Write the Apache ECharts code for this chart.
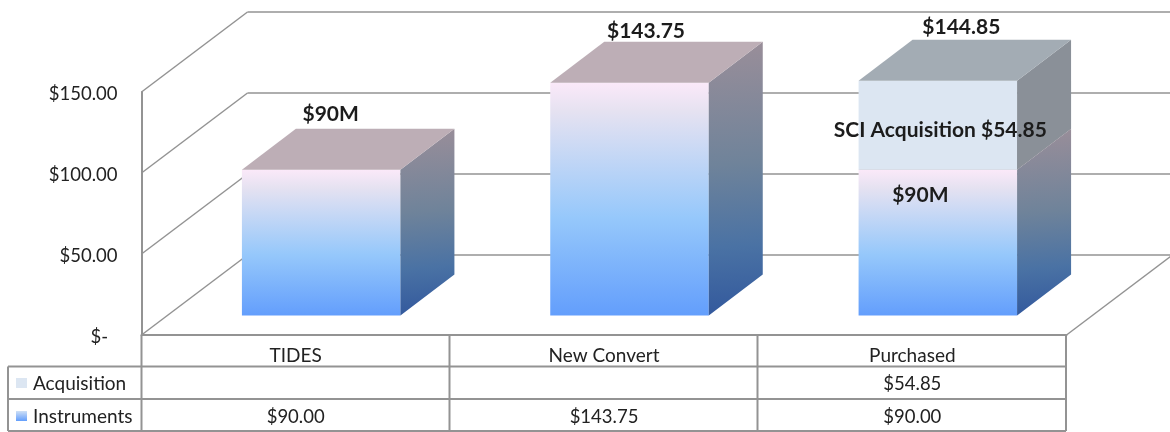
<!DOCTYPE html>
<html>
<head>
<meta charset="utf-8">
<style>
  html, body { margin: 0; padding: 0; background: #fff; }
  #chart { width: 1170px; height: 432px; }
</style>
</head>
<body>
<div id="chart"></div>
<script src="https://cdn.jsdelivr.net/npm/echarts@6/dist/echarts.min.js"></script>
<script>
const categories = ["TIDES", "New Convert", "Purchased"];
const instruments = [90, 143.75, 90];
const acquisition = [null, null, 54.85];
const yTicks = [0, 50, 100, 150];
const yTickLabels = ["$-  ", "$50.00", "$100.00", "$150.00"];
const totalLabels = ["$90M", "$143.75", "$144.85"];
const instrumentLabels = ["", "", "$90M"];
const acquisitionLabels = ["", "", "SCI Acquisition $54.85"];

const FONT = "Lato, 'Open Sans', sans-serif";
const LINE = "#939393";
const TEXT = "#222";

// fake 3d projection, in pixels
const WALL_DEPTH = [106, -80];
const BAR_SHIFT = [25.5, -19.5];
const BAR_DEPTH = [54, -41];
const BAR_WIDTH = 158.5;

const faceGradient = {
  type: "linear", x: 0, y: 0, x2: 0, y2: 1,
  colorStops: [
    { offset: 0, color: "#fbe9f9" },
    { offset: 0.12, color: "#e6e2f1" },
    { offset: 0.58, color: "#96c8fb" },
    { offset: 1, color: "#639efc" },
  ],
};
const sideGradient = {
  type: "linear", x: 0, y: 0, x2: 0.25, y2: 1,
  colorStops: [
    { offset: 0, color: "#9a8e99" },
    { offset: 0.45, color: "#6f839a" },
    { offset: 0.75, color: "#4a72a4" },
    { offset: 1, color: "#33599d" },
  ],
};

const poly = (points, fill) => ({
  type: "polygon",
  shape: { points },
  style: { fill, stroke: null },
});

const renderBar = (colors) => (params, api) => {
  const idx = api.value(0);
  const val = api.value(1);
  const base = api.value(2);
  if (isNaN(val)) return;
  const top = api.coord([idx, base + val]);
  const bottom = api.coord([idx, base]);
  const x0 = top[0] - BAR_WIDTH / 2 + BAR_SHIFT[0];
  const x1 = x0 + BAR_WIDTH;
  const yT = top[1] + BAR_SHIFT[1];
  const yB = bottom[1] + BAR_SHIFT[1];
  const [dx, dy] = BAR_DEPTH;
  return {
    type: "group",
    children: [
      poly([[x0, yB], [x1, yB], [x1, yT], [x0, yT]], colors.front),
      poly([[x1, yB], [x1 + dx, yB + dy], [x1 + dx, yT + dy], [x1, yT]], colors.side),
      poly([[x0, yT], [x1, yT], [x1 + dx, yT + dy], [x0 + dx, yT + dy]], colors.top),
    ],
  };
};

const renderWall = (params, api) => {
  const p = api.coord([0, api.value(0)]);
  const left = params.coordSys.x;
  const right = params.coordSys.x + params.coordSys.width;
  const [dx, dy] = WALL_DEPTH;
  const line = (x1, y1, x2, y2) => ({
    type: "line",
    shape: { x1, y1, x2, y2 },
    style: { stroke: LINE, lineWidth: 1.5 },
  });
  const children = [
    line(left, p[1], left + dx, p[1] + dy),
    line(left + dx, p[1] + dy, right + dx, p[1] + dy),
  ];
  if (api.value(0) === 0) children.push(line(right, p[1], right + dx, p[1] + dy));
  return { type: "group", children };
};

// annotation text boxes, placed relative to the value they describe
const notes = [];
totalLabels.forEach((t, i) => {
  const total = instruments[i] + (acquisition[i] || 0);
  notes.push({ value: [i, total], text: t, off: [[35, -75], [42, -71], [49, -73]][i] });
});
instrumentLabels.forEach((t, i) => {
  if (t) notes.push({ value: [i, instruments[i]], text: t, off: [8, 6] });
});
acquisitionLabels.forEach((t, i) => {
  if (t) notes.push({ value: [i, instruments[i]], text: t, off: [28, -59] });
});

const renderNote = (params, api) => {
  const note = notes[params.dataIndex];
  const p = api.coord([api.value(0), api.value(1)]);
  return {
    type: "text",
    style: {
      x: p[0] + note.off[0],
      y: p[1] + note.off[1],
      text: note.text,
      fill: "#1c1c1c",
      font: "bold 21px " + FONT,
      align: "center",
      verticalAlign: "middle",
    },
  };
};

const chart = echarts.init(document.getElementById("chart"));

chart.setOption({
  animation: false,
  backgroundColor: "#fff",
  grid: { left: 141.5, top: 92, width: 925, height: 243 },
  xAxis: {
    type: "category",
    data: categories,
    axisLine: { show: true, lineStyle: { color: LINE, width: 2 } },
    axisTick: { show: false },
    axisLabel: { color: TEXT, fontFamily: FONT, fontSize: 19, margin: 11 },
  },
  yAxis: {
    type: "value",
    min: 0,
    max: 150,
    interval: 50,
    splitLine: { show: false },
    axisTick: { show: false },
    axisLine: { show: true, lineStyle: { color: LINE, width: 2 } },
    axisLabel: {
      margin: 24,
      formatter: (v) => "{t|" + yTickLabels[yTicks.indexOf(v)] + "}",
      rich: {
        t: { color: TEXT, fontFamily: FONT, fontSize: 18.5, padding: [4, 0, 0, 0] },
      },
    },
  },
  series: [
    {
      type: "custom",
      name: "walls",
      z: 1,
      silent: true,
      data: yTicks.map((v) => [v]),
      encode: { y: 0 },
      renderItem: renderWall,
    },
    {
      type: "custom",
      name: "Instruments",
      z: 2,
      silent: true,
      data: instruments.map((v, i) => [i, v, 0]),
      encode: { x: 0, y: 1 },
      renderItem: renderBar({ front: faceGradient, side: sideGradient, top: "#bdaeb6" }),
    },
    {
      type: "custom",
      name: "Acquisition",
      z: 3,
      silent: true,
      data: acquisition.map((v, i) => [i, v === null ? NaN : v, instruments[i]]),
      encode: { x: 0, y: 1 },
      renderItem: renderBar({ front: "#dce6f2", side: "#8a9098", top: "#a3acb4" }),
    },
    {
      type: "custom",
      name: "notes",
      z: 4,
      silent: true,
      data: notes.map((n) => n.value),
      encode: { x: 0, y: 1 },
      renderItem: renderNote,
    },
  ],
});

// data table under the chart
const tableLine = (x1, y1, x2, y2) => ({
  type: "line",
  shape: { x1, y1, x2, y2 },
  style: { stroke: LINE, lineWidth: 2 },
  z: 5,
});
const tableText = (x, y, text, align, size) => ({
  type: "text",
  style: { x, y, text, fill: TEXT, font: size + "px " + FONT, align, verticalAlign: "middle" },
  z: 5,
});
const keyRect = (y, fill) => ({
  type: "rect",
  shape: { x: 16, y, width: 11, height: 10 },
  style: { fill },
  z: 5,
});

const colX = [141.5, 449.5, 757.5, 1066];
const rowY = [366.5, 399, 431];
const centers = categories.map((c, i) => chart.convertToPixel({ xAxisIndex: 0 }, i));
const money = (v) => (v === null ? "" : "$" + v.toFixed(2));

const elements = [];
colX.forEach((x) => elements.push(tableLine(x, 335, x, 431)));
elements.push(tableLine(8, 366.5, 8, 431));
rowY.forEach((y) => elements.push(tableLine(8, y, 1066, y)));
elements.push(keyRect(378, "#dce6f2"));
elements.push(keyRect(411, {
  type: "linear", x: 0, y: 0, x2: 0, y2: 1,
  colorStops: [{ offset: 0, color: "#cfe0f6" }, { offset: 1, color: "#639efc" }],
}));
elements.push(tableText(33, 384, "Acquisition", "left", 19));
elements.push(tableText(33, 417, "Instruments", "left", 19));
centers.forEach((x, i) => {
  elements.push(tableText(x, 384, money(acquisition[i]), "center", 18.5));
  elements.push(tableText(x, 417, money(instruments[i]), "center", 18.5));
});

chart.setOption({ graphic: { elements } });

window.addEventListener("resize", () => chart.resize());
</script>
</body>
</html>
